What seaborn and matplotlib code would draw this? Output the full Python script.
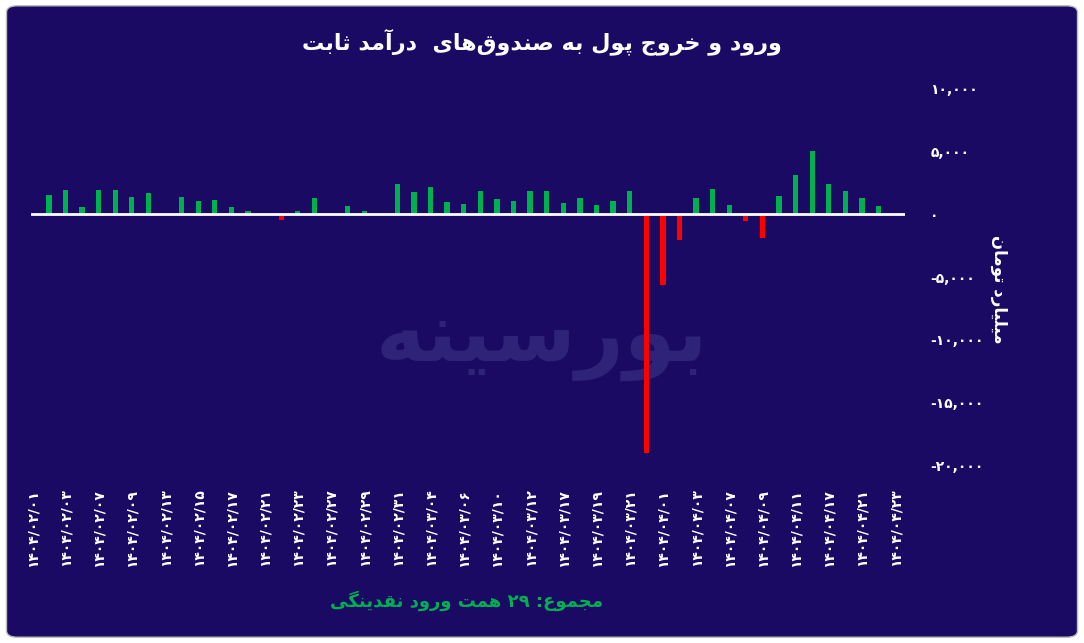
import matplotlib
matplotlib.use("Agg")
import matplotlib.pyplot as plt
import seaborn as sns
import pandas as pd
from matplotlib.patches import FancyBboxPatch

dates = ["۱۴۰۴/۰۲/۰۱","۱۴۰۴/۰۲/۰۳","۱۴۰۴/۰۲/۰۷","۱۴۰۴/۰۲/۰۹","۱۴۰۴/۰۲/۱۳","۱۴۰۴/۰۲/۱۵",
         "۱۴۰۴/۰۲/۱۷","۱۴۰۴/۰۲/۲۱","۱۴۰۴/۰۲/۲۳","۱۴۰۴/۰۲/۲۷","۱۴۰۴/۰۲/۲۹","۱۴۰۴/۰۲/۳۱",
         "۱۴۰۴/۰۳/۰۴","۱۴۰۴/۰۳/۰۶","۱۴۰۴/۰۳/۱۰","۱۴۰۴/۰۳/۱۲","۱۴۰۴/۰۳/۱۷","۱۴۰۴/۰۳/۱۹",
         "۱۴۰۴/۰۳/۲۱","۱۴۰۴/۰۴/۰۱","۱۴۰۴/۰۴/۰۳","۱۴۰۴/۰۴/۰۷","۱۴۰۴/۰۴/۰۹","۱۴۰۴/۰۴/۱۱",
         "۱۴۰۴/۰۴/۱۷","۱۴۰۴/۰۴/۲۱","۱۴۰۴/۰۴/۲۳"]
values = [0, 1540, 1950, 570, 1950, 1950, 1380, 1700, 0, 1380, 1050, 1130, 570, 240, 0,
          -490, 240, 1300, 0, 650, 240, 0, 2430, 1780, 2190, 970, 810, 1860, 1220, 1030,
          1860, 1860, 890, 1300, 730, 1030, 1860, -19000, -5650, -2030, 1300, 2030, 730,
          -570, -1860, 1460, 3160, 5020, 2430, 1860, 1300, 650, 0]
yticks = [10000, 5000, 0, -5000, -10000, -15000, -20000]

title_fa = "ورود و خروج پول به صندوق\u200cهای  درآمد ثابت"
ylabel_fa = "میلیارد تومان"
footer_fa = "مجموع: ۲۹ همت ورود نقدینگی"
watermark_fa = "بورسینه"

FORMS = {
 'ا':(0xFE8D,0xFE8E,None,None),'آ':(0xFE81,0xFE82,None,None),
 'ب':(0xFE8F,0xFE90,0xFE91,0xFE92),'پ':(0xFB56,0xFB57,0xFB58,0xFB59),
 'ت':(0xFE95,0xFE96,0xFE97,0xFE98),'ث':(0xFE99,0xFE9A,0xFE9B,0xFE9C),
 'ج':(0xFE9D,0xFE9E,0xFE9F,0xFEA0),'خ':(0xFEA5,0xFEA6,0xFEA7,0xFEA8),
 'د':(0xFEA9,0xFEAA,None,None),'ر':(0xFEAD,0xFEAE,None,None),
 'س':(0xFEB1,0xFEB2,0xFEB3,0xFEB4),
 'ص':(0xFEB9,0xFEBA,0xFEBB,0xFEBC),'ع':(0xFEC9,0xFECA,0xFECB,0xFECC),
 'ق':(0xFED5,0xFED6,0xFED7,0xFED8),'گ':(0xFB92,0xFB93,0xFB94,0xFB95),
 'ل':(0xFEDD,0xFEDE,0xFEDF,0xFEE0),'م':(0xFEE1,0xFEE2,0xFEE3,0xFEE4),
 'ن':(0xFEE5,0xFEE6,0xFEE7,0xFEE8),'ه':(0xFEE9,0xFEEA,0xFEEB,0xFEEC),
 'و':(0xFEED,0xFEEE,None,None),'ی':(0xFBFC,0xFBFD,0xFBFE,0xFBFF),
}

def shape(s):
    out = []
    n = len(s)
    for i, c in enumerate(s):
        if c not in FORMS:
            if c != '\u200c':
                out.append(c)
            continue
        iso, fin, ini, med = FORMS[c]
        p = s[i-1] if i > 0 else ''
        q = s[i+1] if i < n-1 else ''
        jp = p in FORMS and FORMS[p][2] is not None
        jn = ini is not None and q in FORMS
        if jp and jn: g = med
        elif jp: g = fin
        elif jn: g = ini
        else: g = iso
        out.append(chr(g))
    out = out[::-1]
    res, run = [], []
    for c in out:
        if '\u06f0' <= c <= '\u06f9':
            run.append(c)
        else:
            res.extend(run[::-1]); run = []
            res.append(c)
    res.extend(run[::-1])
    return ''.join(res)

fa_digits = str.maketrans("0123456789", "۰۱۲۳۴۵۶۷۸۹")
def fa_num(v):
    return f"{v:,}".translate(fa_digits)

bg = "#1b0a63"
sns.set_theme(style="white")
plt.rcParams['font.family'] = ['DejaVu Sans']

df = pd.DataFrame({"slot": list(range(len(values))), "value": values,
                   "sign": ["neg" if v < 0 else "pos" for v in values]})

fig = plt.figure(figsize=(10.84, 6.43), dpi=100)
fig.patch.set_facecolor("white")
fig.patches.append(FancyBboxPatch((0.006, 0.009), 0.988, 0.982, boxstyle="round,pad=0,rounding_size=0.01",
                                  transform=fig.transFigure, facecolor=bg, edgecolor="#bbbbbb", lw=1,
                                  zorder=-10))
fig.text(0.5, 0.47, shape(watermark_fa), color="#2e2378", fontsize=60, fontweight="bold", ha="center",
         va="center", zorder=-5)
ax = fig.add_axes([0.029, 0.266, 0.806, 0.606])
ax.set_facecolor("none")
sns.barplot(data=df, x="slot", y="value", hue="sign", palette={"pos": "#00b050", "neg": "#ff0000"},
            dodge=False, width=0.32, legend=False, ax=ax, native_scale=True, linewidth=0, saturation=1)
ax.axhline(0, color="white", lw=2)
ax.set_xlim(-0.05, 52.6)
ax.set_ylim(-20500, 10500)
for s in ax.spines.values():
    s.set_visible(False)
ax.yaxis.tick_right()
ax.set_yticks(yticks)
ax.set_yticklabels([fa_num(v) for v in yticks], color="white", fontsize=10, fontweight="bold")
ax.set_xticks(list(range(0, len(values), 2)))
ax.set_xticklabels(dates, rotation=90, color="white", fontsize=10, fontweight="bold")
ax.tick_params(axis="y", length=0, pad=18)
ax.tick_params(axis="x", length=0, pad=12)
ax.set_xlabel(""); ax.set_ylabel("")
fig.text(0.922, 0.55, shape(ylabel_fa), rotation=-90, color="white", fontsize=12, fontweight="bold",
         ha="center", va="center")
fig.text(0.5, 0.935, shape(title_fa), color="white", fontsize=16, fontweight="bold", ha="center", va="center")
fig.text(0.43, 0.065, shape(footer_fa), color="#00b050", fontsize=13, fontweight="bold", ha="center", va="center")
fig.savefig("out.png", dpi=100, facecolor=fig.get_facecolor())
